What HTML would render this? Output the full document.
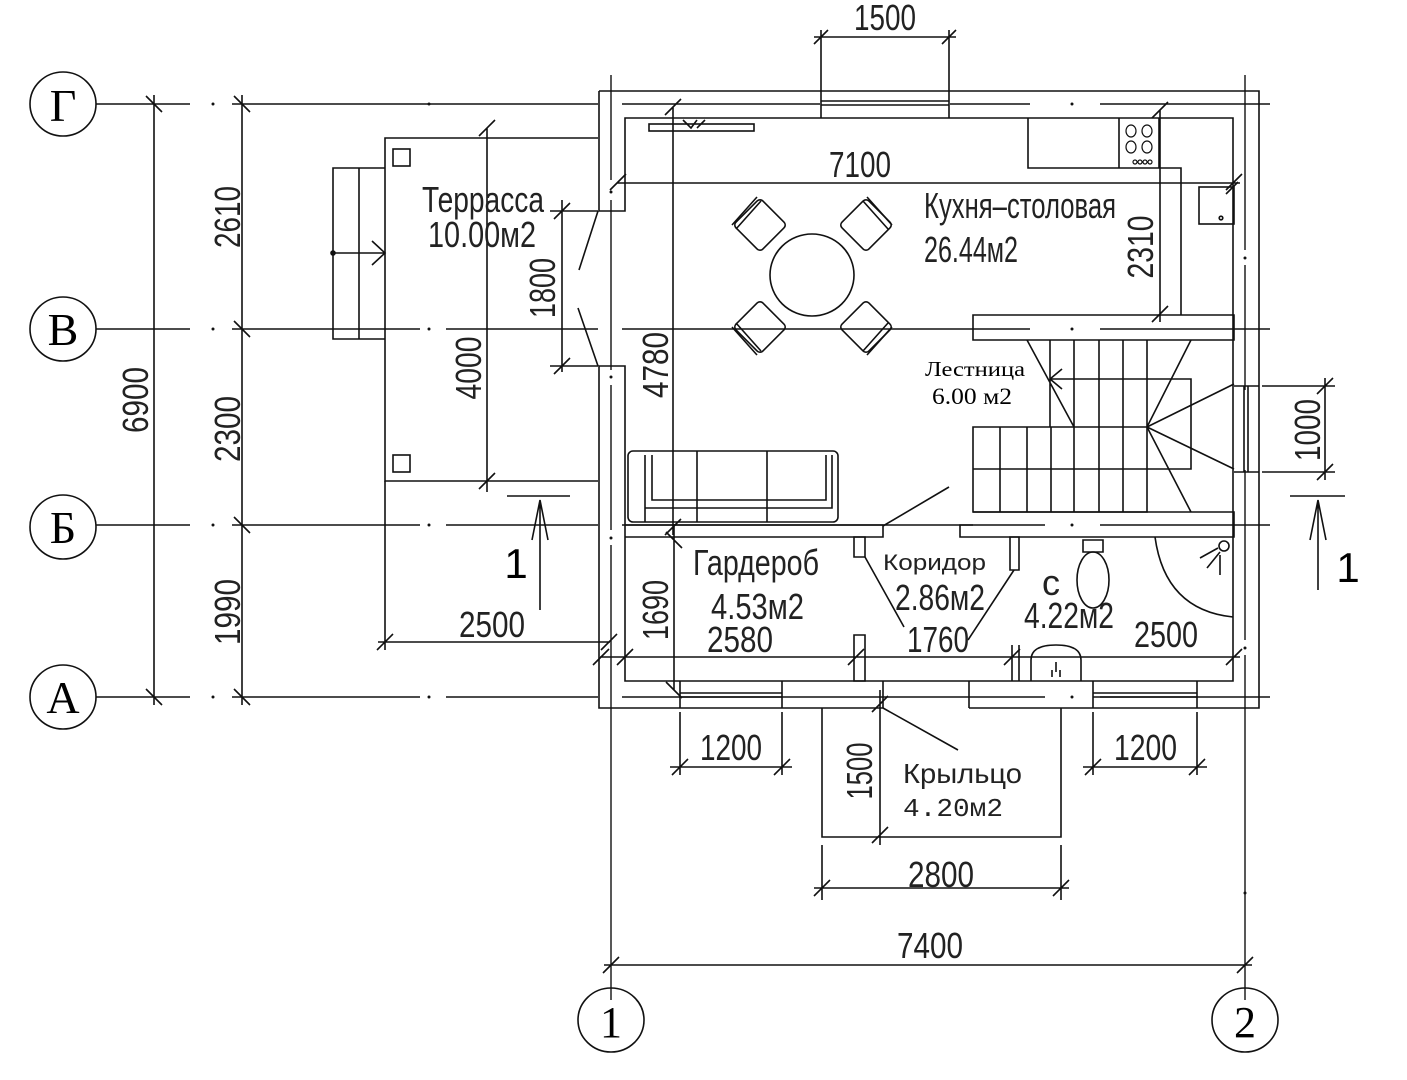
<!DOCTYPE html>
<html><head><meta charset="utf-8"><style>
html,body{margin:0;padding:0;background:#fff}
svg{display:block}
.t{font-family:"Liberation Sans Narrow","Liberation Sans",sans-serif;fill:#222}
.s{font-family:"Liberation Serif",serif;fill:#000}
</style></head><body>
<svg width="1407" height="1080" viewBox="0 0 1407 1080" xmlns="http://www.w3.org/2000/svg">
<g stroke="#111" stroke-width="1.6" fill="none">
<ellipse cx="63" cy="104" rx="33" ry="32"/>
<ellipse cx="63" cy="329" rx="33" ry="32"/>
<ellipse cx="63" cy="527" rx="33" ry="32"/>
<ellipse cx="63" cy="697" rx="33" ry="32"/>
<ellipse cx="611" cy="1020" rx="33" ry="32"/>
<ellipse cx="1245" cy="1020" rx="33" ry="32"/>
<g stroke-width="1.4">
<path d="M96 104H190M232 104H598M622 104H820M950 104H1030M1100 104H1270"/>
<path d="M96 329H190M232 329H420M446 329H598M622 329H1030M1100 329H1270"/>
<path d="M96 525H190M232 525H420M446 525H598M622 525H1045M1100 525H1270"/>
<path d="M96 697H190M232 697H420M446 697H598M622 697H1045M1100 697H1270"/>
<path d="M611 75V180M611 200V370M611 385V530M611 545V1000"/>
<path d="M1245 75V250M1245 265V390M1245 470V640M1245 655V1000"/>
</g>
<g fill="#111" stroke="none">
<circle cx="213" cy="104" r="1.5"/><circle cx="213" cy="329" r="1.5"/><circle cx="213" cy="525" r="1.5"/><circle cx="213" cy="697" r="1.5"/>
<circle cx="429" cy="104" r="1.5"/><circle cx="429" cy="329" r="1.5"/><circle cx="429" cy="525" r="1.5"/><circle cx="429" cy="697" r="1.5"/>
<circle cx="1072" cy="104" r="1.5"/><circle cx="1072" cy="329" r="1.5"/><circle cx="1072" cy="525" r="1.5"/><circle cx="1072" cy="697" r="1.5"/>
<circle cx="611" cy="192" r="1.5"/><circle cx="611" cy="377" r="1.5"/><circle cx="611" cy="538" r="1.5"/>
<circle cx="1245" cy="258" r="1.5"/><circle cx="1245" cy="648" r="1.5"/><circle cx="1245" cy="893" r="1.5"/>
</g>
<path d="M154 95V705M242 95V705"/>
<path d="M146 96l16 16M146 689l16 16M234 96l16 16M234 321l16 16M234 517l16 16M234 689l16 16"/>
<path d="M599 91H1259V708H969M883 708H599V366H625V681H1233V118H625V211H599V91"/>
<path d="M969 681V708M883 681V708"/>
<path d="M821 91V118M949 91V118M821 101H949M821 105H949"/>
<path d="M821 30V91M949 30V91M814 37H956M814 44l14 -14M942 44l14 -14"/>
<path d="M1234 386H1259M1234 472H1259M1244 386V472M1248 386V472"/>
<path d="M1262 386H1335M1262 472H1335M1325 378V480M1317 394l16 -16M1317 480l16 -16"/>
<path d="M680 681V708M782 681V708M680 693H782M680 697H782"/>
<path d="M1093 681V708M1197 681V708M1093 693H1197M1093 697H1197"/>
<path d="M680 712V775M782 712V775M670 767H792M672 775l16 -16M774 775l16 -16"/>
<path d="M1093 712V775M1197 712V775M1083 767H1207M1085 775l16 -16M1189 775l16 -16"/>
<path d="M822 708V837H1061V708"/>
<path d="M880 690V845M872 712l16 -16M872 843l16 -16M883 708L958 750"/>
<path d="M822 845V900M1061 845V900M814 888H1069M814 896l16 -16M1053 896l16 -16"/>
<path d="M604 965H1252M603 973l16 -16M1237 973l16 -16"/>
<path d="M598 138H385V481H598"/>
<rect x="393" y="149" width="17" height="17"/><rect x="393" y="455" width="17" height="17"/>
<path d="M385 168H333V339H385M359 168V339M333 253H385M372 241l13 12l-13 12"/>
<circle cx="333" cy="253" r="2" fill="#111"/>
<path d="M487 128V492M479 136l16 -16M479 489l16 -16"/>
<path d="M550 211H598M550 366H598M562 200V372M554 219l16 -16M554 374l16 -16"/>
<path d="M598 211L579 270M578 308L598 366"/>
<path d="M385 481V650M378 642H610M377 650l16 -16M601 650l16 -16"/>
<path d="M507 496H570M540 610V500M532 540L540 500L548 540"/>
<path d="M1290 496H1345M1318 590V500M1310 540L1318 500L1326 540"/>
<rect x="649" y="124" width="105" height="7"/>
<path d="M683 120l8 8l6 -8M697 128l8 -8"/>
<path d="M673 107V535M665 115l16 -16M665 535l16 -16"/>
<path d="M617 183H1240M610 190l16 -16M1226 190l16 -16"/>
<path d="M1028 118V168H1181V315M1119 118V168M1159 118V168"/>
<g stroke-width="1.2"><ellipse cx="1131" cy="131" rx="5" ry="6"/><ellipse cx="1147" cy="131" rx="5" ry="6"/><ellipse cx="1131" cy="147" rx="5" ry="6"/><ellipse cx="1147" cy="147" rx="5" ry="6"/>
<circle cx="1135" cy="162" r="2"/><circle cx="1140" cy="162" r="2"/><circle cx="1145" cy="162" r="2"/><circle cx="1150" cy="162" r="2"/></g>
<path d="M1160 110V322M1152 118l16 -16M1152 322l16 -16"/>
<rect x="1199" y="187" width="35" height="37"/><circle cx="1221" cy="218" r="1.8"/>
<path d="M1226 194l12 -12"/>
<ellipse cx="812" cy="275" rx="42" ry="41"/>
<g transform="translate(760 225) rotate(45)"><rect x="-19" y="-19" width="38" height="38" rx="4"/></g>
<g transform="translate(866 225) rotate(45)"><rect x="-19" y="-19" width="38" height="38" rx="4"/></g>
<g transform="translate(760 327) rotate(45)"><rect x="-19" y="-19" width="38" height="38" rx="4"/></g>
<g transform="translate(866 327) rotate(45)"><rect x="-19" y="-19" width="38" height="38" rx="4"/></g>
<path d="M732 225L757 197M736 229L761 201M892 225L867 197M888 229L863 201M732 327L757 355M736 323L761 351M892 327L867 355M888 323L863 351"/>
<path d="M973 315H1234V340H973Z"/>
<path d="M1027 340L1074 427M1050 340V427M1074 340V427M1099 340V427M1123 340V427M1147 340V427M1191 340L1147 427"/>
<path d="M1050 379H1191V469H1147M1050 379l12 -10M1050 379l12 10"/>
<path d="M1147 427L1234 384M1147 427L1234 469M1147 427L1191 512"/>
<path d="M973 427H1147V512H973ZM1000 427V512M1027 427V512M1051 427V512M1074 427V512M1099 427V512M1123 427V512M973 469H1147"/>
<path d="M973 512H1234V537H960V525H973"/>
<path d="M949 487L883 526"/>
<rect x="628" y="451" width="210" height="71" rx="5"/>
<path d="M645 455V508H832V455M645 508V522M697 451V522M767 451V522M652 455V500H826V455"/>
<path d="M625 525H883V537H625"/>
<path d="M854 537H865V557H854ZM854 635H865V681H854Z"/>
<path d="M1010 537H1019V570H1010Z"/>
<path d="M865 557L904 627M1014 570L968 640"/>
<path d="M600 657H1240M593 665l16 -16M617 665l16 -16M848 665l16 -16M1004 665l16 -16M1226 665l16 -16"/>
<path d="M674 524V690M666 532l16 16M666 682l16 16"/>
<path d="M1012 645V681M1019 645V681"/>
<path d="M1031 681V660Q1031 645 1056 645Q1081 645 1081 660V681"/>
<path d="M1056 662V672M1052 670V677M1060 670V677"/>
<ellipse cx="1093" cy="580" rx="16" ry="28"/>
<path d="M1083 540H1103V552H1083Z"/>
<path d="M1155 537Q1165 610 1233 617"/>
<circle cx="1224" cy="546" r="5"/><path d="M1200 558L1218 548M1207 568L1220 552M1220 555V575"/>
</g>
<g class="s" font-size="46" text-anchor="middle">
<text x="63" y="121">Г</text><text x="63" y="345">В</text><text x="63" y="543">Б</text><text x="63" y="713">А</text>
<text x="611" y="1037" font-size="44">1</text><text x="1245" y="1037" font-size="44">2</text>
</g>
<g class="t" font-size="36">
<text x="854" y="30" textLength="62" lengthAdjust="spacingAndGlyphs">1500</text>
<text x="829" y="177" textLength="62" lengthAdjust="spacingAndGlyphs">7100</text>
<text x="422" y="212" textLength="122" lengthAdjust="spacingAndGlyphs">Терраcса</text>
<text x="428" y="247" textLength="108" lengthAdjust="spacingAndGlyphs">10.00м2</text>
<text x="924" y="218" textLength="192" lengthAdjust="spacingAndGlyphs">Кухня–столовая</text>
<text x="924" y="262" textLength="94" lengthAdjust="spacingAndGlyphs">26.44м2</text>
<text x="693" y="575" textLength="126" lengthAdjust="spacingAndGlyphs">Гардероб</text>
<text x="711" y="619" textLength="93" lengthAdjust="spacingAndGlyphs">4.53м2</text>
<text x="707" y="652" textLength="66" lengthAdjust="spacingAndGlyphs">2580</text>
<text x="895" y="610" textLength="90" lengthAdjust="spacingAndGlyphs">2.86м2</text>
<text x="907" y="652" textLength="62" lengthAdjust="spacingAndGlyphs">1760</text>
<text x="1042" y="595">с</text>
<text x="1024" y="628" textLength="90" lengthAdjust="spacingAndGlyphs">4.22м2</text>
<text x="1134" y="647" textLength="64" lengthAdjust="spacingAndGlyphs">2500</text>
<text x="700" y="760" textLength="62" lengthAdjust="spacingAndGlyphs">1200</text>
<text x="1114" y="760" textLength="63" lengthAdjust="spacingAndGlyphs">1200</text>
<text x="903" y="783" font-size="28" textLength="119" lengthAdjust="spacingAndGlyphs">Крыльцо</text>
<text x="903" y="816" font-size="26" font-family="Liberation Mono" textLength="100" lengthAdjust="spacingAndGlyphs">4.20м2</text>
<text x="908" y="887" textLength="66" lengthAdjust="spacingAndGlyphs">2800</text>
<text x="897" y="958" textLength="66" lengthAdjust="spacingAndGlyphs">7400</text>
<text x="459" y="637" textLength="66" lengthAdjust="spacingAndGlyphs">2500</text>
<text x="883" y="570" font-size="22" textLength="103" lengthAdjust="spacingAndGlyphs">Коридор</text>
</g>
<g class="t" font-size="36" text-anchor="middle">
<text transform="translate(668 365) rotate(-90)" textLength="66" lengthAdjust="spacingAndGlyphs">4780</text>
<text transform="translate(481 368) rotate(-90)" textLength="63" lengthAdjust="spacingAndGlyphs">4000</text>
<text transform="translate(555 288) rotate(-90)" textLength="60" lengthAdjust="spacingAndGlyphs">1800</text>
<text transform="translate(1153 247) rotate(-90)" textLength="63" lengthAdjust="spacingAndGlyphs">2310</text>
<text transform="translate(240 217) rotate(-90)" textLength="62" lengthAdjust="spacingAndGlyphs">2610</text>
<text transform="translate(240 429) rotate(-90)" textLength="66" lengthAdjust="spacingAndGlyphs">2300</text>
<text transform="translate(240 612) rotate(-90)" textLength="66" lengthAdjust="spacingAndGlyphs">1990</text>
<text transform="translate(148 400) rotate(-90)" textLength="66" lengthAdjust="spacingAndGlyphs">6900</text>
<text transform="translate(668 610) rotate(-90)" textLength="60" lengthAdjust="spacingAndGlyphs">1690</text>
<text transform="translate(872 771) rotate(-90)" textLength="57" lengthAdjust="spacingAndGlyphs">1500</text>
<text transform="translate(1320 430) rotate(-90)" textLength="62" lengthAdjust="spacingAndGlyphs">1000</text>
</g>
<g class="s">
<text x="925" y="376" font-size="21" textLength="100" lengthAdjust="spacingAndGlyphs">Лестница</text>
<text x="932" y="404" font-size="23" textLength="80" lengthAdjust="spacingAndGlyphs">6.00 м2</text>
</g>
<g font-family="Liberation Sans,sans-serif" font-size="42" fill="#000" text-anchor="middle">
<text x="516" y="578">1</text><text x="1348" y="582">1</text>
</g>
</svg>
</body></html>
